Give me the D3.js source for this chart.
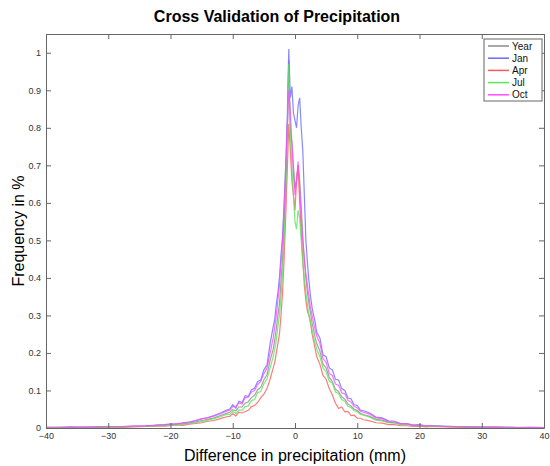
<!DOCTYPE html>
<html>
<head>
<meta charset="utf-8">
<script src="https://cdn.jsdelivr.net/npm/d3@7"></script>
<style>
  body { margin: 0; background: #fff; }
  svg { font-family: "Liberation Sans", Arial, Helvetica, sans-serif; }
</style>
</head>
<body>
<div id="chart"></div>
<script>
// Bin centres (mm), finer near the peak
const bins = [
  -40, -38, -36, -34, -32, -30, -28, -26, -24, -22,
  -21, -20, -19, -18, -17, -16, -15, -14, -13, -12, -11,
  -10.5, -10, -9.5, -9, -8.5, -8, -7.5, -7, -6.5, -6, -5.5, -5, -4.5, -4, -3.5,
  -3.25, -3, -2.75, -2.5, -2.25, -2, -1.75, -1.5, -1.25, -1, -0.75, -0.5, -0.25, 0,
  0.25, 0.5, 0.75, 1, 1.25, 1.5, 1.75, 2, 2.25, 2.5, 2.75, 3, 3.25,
  3.5, 4, 4.5, 5, 5.5, 6, 6.5, 7, 7.5, 8, 8.5, 9, 9.5, 10, 10.5,
  11, 12, 13, 14, 15, 16, 17, 18, 19, 20, 21,
  22, 24, 26, 28, 30, 32, 34, 36, 38, 40
];

const yearFreq = [
  0.001, 0.002, 0.002, 0.002, 0.002, 0.003, 0.003, 0.004, 0.005, 0.007,
  0.007, 0.009, 0.010, 0.011, 0.013, 0.016, 0.020, 0.023, 0.027, 0.033, 0.039,
  0.042, 0.049, 0.046, 0.056, 0.056, 0.066, 0.070, 0.081, 0.087, 0.102, 0.108, 0.128, 0.142, 0.18, 0.21,
  0.235, 0.265, 0.30, 0.33, 0.39, 0.45, 0.54, 0.64, 0.78, 0.98, 0.80, 0.76, 0.70, 0.64,
  0.66, 0.70, 0.66, 0.59, 0.51, 0.45, 0.40, 0.36, 0.33, 0.305, 0.28, 0.26, 0.24,
  0.225, 0.205, 0.17, 0.16, 0.135, 0.124, 0.103, 0.097, 0.083, 0.077, 0.064, 0.059, 0.050, 0.047, 0.039,
  0.036, 0.031, 0.023, 0.021, 0.015, 0.014, 0.010, 0.010, 0.007, 0.007, 0.005,
  0.005, 0.004, 0.003, 0.003, 0.002, 0.002, 0.002, 0.001, 0.001, 0.001
];
const janFreq = [
  0.002, 0.001, 0.003, 0.002, 0.003, 0.004, 0.003, 0.005, 0.006, 0.008,
  0.009, 0.011, 0.010, 0.014, 0.016, 0.019, 0.024, 0.028, 0.033, 0.040, 0.048,
  0.050, 0.062, 0.053, 0.071, 0.068, 0.086, 0.084, 0.102, 0.106, 0.124, 0.128, 0.155, 0.168, 0.225, 0.27,
  0.29, 0.33, 0.36, 0.40, 0.46, 0.51, 0.60, 0.70, 0.82, 1.01, 0.88, 0.91, 0.84, 0.82,
  0.80, 0.86, 0.88, 0.80, 0.74, 0.62, 0.50, 0.44, 0.39, 0.35, 0.32, 0.30, 0.28,
  0.255, 0.24, 0.195, 0.19, 0.16, 0.155, 0.13, 0.128, 0.105, 0.10, 0.08, 0.078, 0.062, 0.06, 0.048,
  0.046, 0.040, 0.029, 0.027, 0.019, 0.018, 0.012, 0.012, 0.008, 0.009, 0.006,
  0.006, 0.005, 0.004, 0.003, 0.003, 0.002, 0.002, 0.001, 0.002, 0.001
];
const aprFreq = [
  0.001, 0.001, 0.002, 0.001, 0.002, 0.002, 0.002, 0.003, 0.004, 0.005,
  0.005, 0.006, 0.008, 0.007, 0.010, 0.012, 0.014, 0.018, 0.020, 0.025, 0.030,
  0.031, 0.038, 0.032, 0.042, 0.040, 0.044, 0.047, 0.057, 0.060, 0.068, 0.081, 0.090, 0.105, 0.13, 0.16,
  0.175, 0.20, 0.225, 0.25, 0.30, 0.36, 0.45, 0.56, 0.68, 0.81, 0.74, 0.66, 0.62, 0.58,
  0.66, 0.70, 0.60, 0.52, 0.45, 0.38, 0.34, 0.31, 0.30, 0.28, 0.25, 0.23, 0.21,
  0.19, 0.17, 0.14, 0.13, 0.105, 0.088, 0.066, 0.052, 0.056, 0.043, 0.044, 0.033, 0.034, 0.026, 0.026,
  0.022, 0.019, 0.014, 0.013, 0.009, 0.009, 0.006, 0.006, 0.004, 0.005, 0.003,
  0.004, 0.003, 0.002, 0.002, 0.001, 0.002, 0.001, 0.001, 0.001, 0.001
];
const julFreq = [
  0.001, 0.002, 0.001, 0.002, 0.002, 0.003, 0.002, 0.004, 0.004, 0.006,
  0.007, 0.008, 0.008, 0.010, 0.012, 0.014, 0.017, 0.021, 0.025, 0.030, 0.036,
  0.036, 0.044, 0.039, 0.048, 0.047, 0.057, 0.059, 0.073, 0.076, 0.094, 0.097, 0.118, 0.130, 0.16, 0.19,
  0.21, 0.235, 0.27, 0.30, 0.35, 0.41, 0.50, 0.62, 0.76, 0.97, 0.78, 0.70, 0.62, 0.55,
  0.53, 0.58, 0.56, 0.50, 0.44, 0.40, 0.36, 0.33, 0.30, 0.28, 0.26, 0.24, 0.225,
  0.21, 0.19, 0.16, 0.15, 0.125, 0.12, 0.096, 0.092, 0.076, 0.071, 0.058, 0.055, 0.046, 0.044, 0.036,
  0.034, 0.029, 0.021, 0.019, 0.014, 0.013, 0.009, 0.009, 0.006, 0.007, 0.004,
  0.005, 0.004, 0.003, 0.003, 0.002, 0.002, 0.001, 0.002, 0.001, 0.001
];
const octFreq = [
  0.002, 0.002, 0.001, 0.003, 0.002, 0.004, 0.004, 0.005, 0.005, 0.008,
  0.008, 0.010, 0.012, 0.013, 0.016, 0.020, 0.025, 0.027, 0.032, 0.038, 0.045,
  0.048, 0.057, 0.058, 0.067, 0.064, 0.081, 0.082, 0.096, 0.100, 0.116, 0.124, 0.145, 0.160, 0.20, 0.24,
  0.27, 0.30, 0.34, 0.38, 0.44, 0.50, 0.58, 0.68, 0.80, 0.90, 0.84, 0.76, 0.68, 0.62,
  0.66, 0.71, 0.64, 0.56, 0.50, 0.45, 0.41, 0.38, 0.35, 0.32, 0.30, 0.28, 0.26,
  0.245, 0.225, 0.185, 0.175, 0.145, 0.14, 0.117, 0.114, 0.094, 0.091, 0.074, 0.069, 0.057, 0.054, 0.045,
  0.042, 0.037, 0.027, 0.025, 0.017, 0.016, 0.011, 0.011, 0.007, 0.008, 0.005,
  0.006, 0.004, 0.004, 0.003, 0.002, 0.003, 0.002, 0.001, 0.002, 0.001
];

const seriesNames = ['Year', 'Jan', 'Apr', 'Jul', 'Oct'];
const seriesValues = [yearFreq, janFreq, aprFreq, julFreq, octFreq];
const seriesColors = ['#8c8c8c', '#6b6bff', '#ff5a5a', '#5ae65a', '#ff4dff'];
const xTicks = [-40, -30, -20, -10, 0, 10, 20, 30, 40];
const yTicks = [0, 0.1, 0.2, 0.3, 0.4, 0.5, 0.6, 0.7, 0.8, 0.9, 1];

// Layout
const W = 550, H = 466;
const margin = {top: 34, right: 6, bottom: 38, left: 46};
const width = W - margin.left - margin.right;
const height = H - margin.top - margin.bottom;

const svg = d3.select('#chart')
  .append('svg')
    .attr('width', W)
    .attr('height', H);

const g = svg.append('g')
  .attr('transform', `translate(${margin.left},${margin.top})`);

const x = d3.scaleLinear().domain([-40, 40]).range([0, width]);
const y = d3.scaleLinear().domain([0, 1.05]).range([height, 0]);

// Lines
const line = d3.line()
  .x(d => x(d[0]))
  .y(d => y(d[1]));

seriesValues.forEach((vals, i) => {
  g.append('path')
    .datum(bins.map((b, j) => [b, vals[j]]))
    .attr('fill', 'none')
    .attr('stroke', seriesColors[i])
    .attr('stroke-width', 1.2)
    .attr('stroke-opacity', 0.8)
    .attr('d', line);
});

// Axes, MATLAB style box with inward ticks
const styleAxis = sel => {
  sel.select('.domain').attr('stroke', '#666');
  sel.selectAll('.tick line').attr('stroke', '#666');
  sel.selectAll('text').attr('fill', '#333').style('font-size', '9px');
};

g.append('g')
  .attr('transform', `translate(0,${height})`)
  .call(d3.axisBottom(x).tickValues(xTicks).tickSizeInner(-5).tickSizeOuter(0).tickPadding(5))
  .call(styleAxis);
g.append('g')
  .call(d3.axisLeft(y).tickValues(yTicks).tickSizeInner(-5).tickSizeOuter(0).tickPadding(5).tickFormat(d3.format('~g')))
  .call(styleAxis);
g.append('g')
  .call(d3.axisTop(x).tickValues(xTicks).tickSizeInner(-5).tickSizeOuter(0).tickFormat(''))
  .call(styleAxis);
g.append('g')
  .attr('transform', `translate(${width},0)`)
  .call(d3.axisRight(y).tickValues(yTicks).tickSizeInner(-5).tickSizeOuter(0).tickFormat(''))
  .call(styleAxis);

// Legend
const legend = g.append('g')
  .attr('transform', `translate(${width - 60},5)`);
legend.append('rect')
  .attr('width', 58)
  .attr('height', 62)
  .attr('fill', '#fff')
  .attr('stroke', '#666');
seriesNames.forEach((name, i) => {
  const row = legend.append('g').attr('transform', `translate(0,${7 + i * 12.2})`);
  row.append('line')
    .attr('x1', 4).attr('x2', 25)
    .attr('stroke', seriesColors[i])
    .attr('stroke-width', 1.5);
  row.append('text')
    .attr('x', 28)
    .attr('dy', '0.35em')
    .style('font-size', '10px')
    .attr('fill', '#111')
    .text(name);
});

// Titles
svg.append('text')
  .attr('x', 277)
  .attr('y', 22)
  .attr('text-anchor', 'middle')
  .style('font-size', '16px')
  .style('font-weight', 'bold')
  .text('Cross Validation of Precipitation');

svg.append('text')
  .attr('x', margin.left + width / 2)
  .attr('y', 461)
  .attr('text-anchor', 'middle')
  .style('font-size', '16px')
  .text('Difference in precipitation (mm)');

svg.append('text')
  .attr('transform', `translate(24,${margin.top + height / 2}) rotate(-90)`)
  .attr('text-anchor', 'middle')
  .style('font-size', '16px')
  .text('Frequency in %');
</script>
</body>
</html>
